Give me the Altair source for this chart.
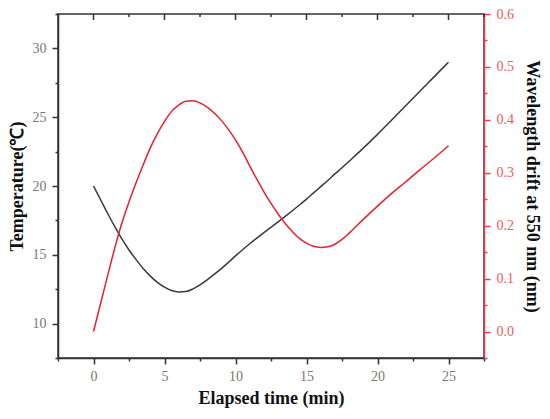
import altair as alt
import pandas as pd

time_min = [0, 0.5, 1, 1.5, 2, 2.5, 3, 3.5, 4, 4.5, 5, 5.5, 6, 6.5, 7, 7.5, 8, 8.5,
            9, 9.5, 10, 10.5, 11, 11.5, 12, 12.5, 13, 13.5, 14, 14.5, 15, 15.5, 16,
            16.5, 17, 17.5, 18, 19, 20, 21, 22, 23, 24, 25]
temperature_c = [20.0, 19.0, 18.0, 17.05, 16.15, 15.35, 14.65, 14.0, 13.45, 13.0, 12.65,
                 12.4, 12.3, 12.33, 12.52, 12.82, 13.18, 13.58, 14.0, 14.45, 14.92, 15.37,
                 15.8, 16.21, 16.61, 17.0, 17.39, 17.79, 18.2, 18.62, 19.05, 19.5, 19.95,
                 20.4, 20.88, 21.33, 21.8, 22.75, 23.75, 24.8, 25.85, 26.9, 27.95, 29.0]
drift_nm = [0.0, 0.053, 0.106, 0.158, 0.205, 0.245, 0.281, 0.315, 0.347, 0.374, 0.397,
            0.416, 0.428, 0.435, 0.436, 0.432, 0.424, 0.413, 0.399, 0.382, 0.362, 0.339,
            0.313, 0.288, 0.264, 0.242, 0.222, 0.204, 0.189, 0.176, 0.167, 0.161, 0.159,
            0.16, 0.165, 0.174, 0.186, 0.212, 0.237, 0.261, 0.283, 0.306, 0.328, 0.351]

x_ticks = [-2.5, 0, 2.5, 5, 7.5, 10, 12.5, 15, 17.5, 20, 22.5, 25, 27.5]
x_major = [0, 5, 10, 15, 20, 25]
x_minor = [-2.5, 2.5, 7.5, 12.5, 17.5, 22.5, 27.5]
temp_ticks = [7.5, 10, 12.5, 15, 17.5, 20, 22.5, 25, 27.5, 30, 32.5]
drift_ticks = [-0.05, 0.0, 0.05, 0.1, 0.15, 0.2, 0.25, 0.3, 0.35, 0.4, 0.45, 0.5, 0.55, 0.6]

df = pd.DataFrame({"t": time_min, "temp": temperature_c, "drift": drift_nm})
df_major = pd.DataFrame({"t": x_major})
df_minor = pd.DataFrame({"t": x_minor})

SERIF = "Liberation Serif"
AX = "#333333"
RED = "#e8212b"
RED_AX = "#ea3f48"

xscale = alt.Scale(domain=[-2.5, 27.5], nice=False, zero=False)

xaxis = alt.Axis(
    title="Elapsed time (min)", orient="bottom", values=x_ticks,
    labelExpr="datum.value % 5 == 0 ? datum.label : ''",
    tickSize={"condition": {"test": "datum.value % 5 != 0", "value": 3}, "value": 6},
    grid=False, domainColor=AX, tickColor=AX, domainWidth=1.5, tickWidth=1.5,
    labelColor="#777777", labelFont=SERIF, labelFontSize=14, labelPadding=5,
    titleFont=SERIF, titleFontSize=18, titleFontWeight="bold", titleColor="#111111",
    titlePadding=6,
)

X = alt.X("t:Q", scale=xscale, axis=xaxis, title="Elapsed time (min)")

temp_line = alt.Chart(df).mark_line(color="#3a3a3a", strokeWidth=1.5, interpolate="monotone").encode(
    x=X,
    y=alt.Y("temp:Q", scale=alt.Scale(domain=[7.5, 32.5], nice=False, zero=False),
            axis=alt.Axis(
                title="Temperature(℃)", orient="left", values=temp_ticks,
                labelExpr="datum.value % 5 == 0 ? datum.label : ''",
                tickSize={"condition": {"test": "datum.value % 5 != 0", "value": 3}, "value": 6},
                grid=False, domainColor=AX, tickColor=AX, domainWidth=1.5, tickWidth=1.5,
                labelColor="#777777", labelFont=SERIF, labelFontSize=14, labelPadding=6,
                titleFont=SERIF, titleFontSize=18, titleFontWeight="bold", titleColor="#111111",
                titlePadding=6,
            )),
)

drift_line = alt.Chart(df).mark_line(color=RED, strokeWidth=1.5, interpolate="monotone").encode(
    x=X,
    y=alt.Y("drift:Q", scale=alt.Scale(domain=[-0.05, 0.6], nice=False, zero=False),
            axis=alt.Axis(
                title="Wavelength drift at 550 nm (nm)", orient="right", values=drift_ticks,
                labelExpr="round(datum.value * 100) % 10 == 0 ? format(datum.value, '.1f') : ''",
                tickSize={"condition": {"test": "round(datum.value * 100) % 10 != 0", "value": 3}, "value": 6},
                grid=False, domainColor=RED_AX, tickColor=RED_AX, domainWidth=1.5, tickWidth=1.5,
                labelColor="#f0575e", labelFont=SERIF, labelFontSize=14, labelPadding=6,
                titleFont=SERIF, titleFontSize=18, titleFontWeight="bold", titleColor="#111111",
                titlePadding=9,
            )),
)

top_major = alt.Chart(df_major).mark_rule(color=AX, strokeWidth=1.5).encode(
    x=X,
    y=alt.value(0), y2=alt.value(6),
)
top_minor = alt.Chart(df_minor).mark_rule(color=AX, strokeWidth=1.5).encode(
    x=X,
    y=alt.value(0), y2=alt.value(3),
)

chart = alt.layer(temp_line, drift_line, top_major, top_minor).resolve_scale(
    y="independent"
).properties(
    width=426, height=344,
    autosize=alt.AutoSizeParams(type="none"),
    padding={"left": 50, "top": 6, "right": 58, "bottom": 52},
    background="white",
).configure_view(stroke=AX, strokeWidth=1.5)

chart.save("out.html", embed_options={"renderer": "svg", "actions": False})
